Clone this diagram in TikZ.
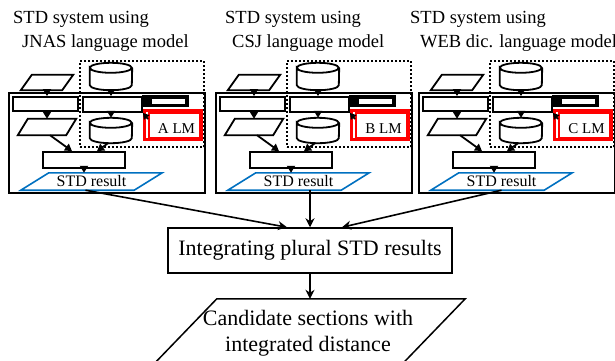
\documentclass[tikz,border=0pt]{standalone}
\usepackage{fontspec}
\setmainfont{Liberation Serif}
\usetikzlibrary{arrows.meta,calc}
\definecolor{stdblue}{RGB}{0,112,192}
\definecolor{lmred}{RGB}{255,0,0}
% outline of a parallelogram inside a named rectangular node: #1 node, #2 slant, #3 draw options
\newcommand\slantbox[3]{%
  \draw[#3] ([xshift=#2]#1.north west) -- (#1.north east)
            -- ([xshift=-#2]#1.south east) -- (#1.south west) -- cycle;}
\begin{document}
\begin{tikzpicture}[x=1pt,y=-1pt,
  blk/.style={draw, line width=1.8pt, rectangle, inner sep=0pt},
  holder/.style={rectangle, inner sep=0pt},
  cylbox/.style={rectangle, inner sep=0pt, minimum width=42pt},
  cylline/.style={line width=1.8pt},
  group/.style={draw, rectangle, inner sep=0pt, line width=1.8pt, dash pattern=on 1.8pt off 2.2pt},
  panel/.style={draw, rectangle, inner sep=0pt, line width=1.8pt, minimum width=196pt, minimum height=100pt},
  inarrow/.style={line width=1.8pt, -{Triangle[length=7pt,width=8pt]}},
  outarrow/.style={line width=1.6pt, -{Stealth[length=9pt,width=9pt]}},
  title/.style={anchor=base west, inner sep=0pt, font=\fontsize{18.5}{22}\selectfont},
  small/.style={font=\fontsize{15}{18}\selectfont},
  big/.style={font=\fontsize{22}{26}\selectfont}
]
\useasboundingbox (0,0) rectangle (615,360);
\clip (0,0) rectangle (615,360);

% panel titles
\node[title] (t1a) at (13,23) {STD system using};
\node[title] (t1b) at (22,47) {JNAS language model};
\node[title] (t2a) at (225,23) {STD system using};
\node[title] (t2b) at (232,47) {CSJ language model};
\node[title] (t3a) at (410,23) {STD system using};
\node[title] (t3b) at (420,47) {WEB dic. language model};

% three STD systems, identical apart from the language model
\foreach \n/\dx/\lm in {1/0/A, 2/207/B, 3/410/C}{
\begin{scope}[xshift=\dx pt]
  \node[panel] (box-\n) at (107,143) {};
  \node[group, minimum width=124pt, minimum height=86pt] (grp-\n) at (142,104) {};

  \node[holder, minimum width=52pt, minimum height=15pt] (pa-\n) at (47,82.5) {};
  \slantbox{pa-\n}{11pt}{line width=1.8pt}
  \node[blk, minimum width=65pt, minimum height=14pt] (ra-\n) at (45.5,104) {};
  \node[holder, minimum width=58pt, minimum height=16pt] (pb-\n) at (47,127) {};
  \slantbox{pb-\n}{10pt}{line width=1.8pt}
  \node[blk, minimum width=59pt, minimum height=15pt] (rb-\n) at (112.5,104.5) {};
  \node[blk, minimum width=82pt, minimum height=16pt] (rc-\n) at (84,160) {};

  % database cylinders
  \node[cylbox, minimum height=27pt] (ca-\n) at (111,76.5) {};
  \draw[cylline] ([yshift=-5pt]ca-\n.north west)
     arc[start angle=180, end angle=-180, x radius=21pt, y radius=5pt]
     -- ([yshift=5pt]ca-\n.south west)
     arc[start angle=180, end angle=360, x radius=21pt, y radius=5pt]
     -- ([yshift=-5pt]ca-\n.north east);
  \node[cylbox, minimum height=25pt] (cb-\n) at (111,130.5) {};
  \draw[cylline] ([yshift=-5pt]cb-\n.north west)
     arc[start angle=180, end angle=-180, x radius=21pt, y radius=5pt]
     -- ([yshift=5pt]cb-\n.south west)
     arc[start angle=180, end angle=360, x radius=21pt, y radius=5pt]
     -- ([yshift=-5pt]cb-\n.north east);

  % language model block
  \node[fill=black, inner sep=0pt, minimum width=47pt, minimum height=12pt] (k-\n) at (165.5,100.5) {};
  \node[fill=white, inner sep=0pt, minimum width=33pt, minimum height=5pt] (kw-\n) at (168.5,101.5) {};
  \node[draw=lmred, line width=3pt, inner sep=0pt, minimum width=57pt, minimum height=29pt] (lm-\n) at (173,125) {};
  \node[draw=lmred, line width=1.6pt, inner sep=0pt, minimum width=51pt, minimum height=25pt] (lmi-\n) at (174.5,125.5) {};
  \node[small, inner sep=0pt] (lmt-\n) at (176.5,129) {\lm\ LM};

  % STD output
  \node[holder, minimum width=141pt, minimum height=17pt, font=\fontsize{16}{19}\selectfont] (s-\n) at (91.5,181.5) {STD result};
  \slantbox{s-\n}{28pt}{draw=stdblue, line width=1.6pt}

  % flow inside the system
  \draw[inarrow] (pa-\n.south) -- (pa-\n.south |- ra-\n.north);
  \draw[inarrow] (ra-\n.south -| pb-\n.north) -- (pb-\n.north);
  \draw[inarrow] (ca-\n.south) -- (ca-\n.south |- rb-\n.north);
  \draw[inarrow] (rb-\n.south -| cb-\n.north) -- (cb-\n.north);
  \draw[inarrow] ([xshift=3pt]pb-\n.south) -- ([xshift=-12pt]rc-\n.north);
  \draw[inarrow] ([xshift=-3pt]cb-\n.south) -- ([xshift=13pt]rc-\n.north);
  \draw[inarrow] (rc-\n.south) -- (rc-\n.south |- s-\n.north);
  \draw[line width=1.8pt, -{Triangle[length=6pt,width=7pt]}] ([shift={(5pt,-10pt)}]lm-\n.north west) -- (rb-\n.south east);
\end{scope}
}

% integration stage
\node[draw, line width=1.5pt, inner sep=0pt, minimum width=284pt, minimum height=45pt,
      font=\fontsize{22}{26}\selectfont] (ig) at (310,250.5) {Integrating plural STD results};
\node[holder, minimum width=314pt, minimum height=68pt, big, align=center] (out) at (308,333)
      {Candidate sections with\\integrated distance};
\slantbox{out}{66pt}{line width=1.5pt}

\draw[outarrow] ([xshift=-6pt]s-1.south) -- ([xshift=-23pt]ig.north);
\draw[outarrow] ([xshift=11.5pt]s-2.south) -- (ig.north);
\draw[outarrow] (s-3.south) -- ([xshift=32pt]ig.north);
\draw[outarrow] (ig.south) -- (ig.south |- out.north);
\end{tikzpicture}
\end{document}
